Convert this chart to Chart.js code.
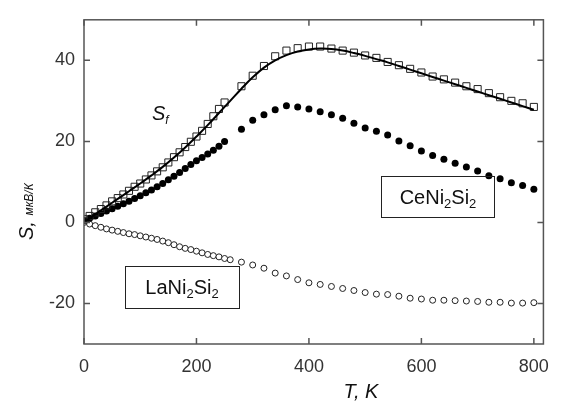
<!DOCTYPE html>
<html>
<head>
<meta charset="utf-8">
<script src="https://cdn.jsdelivr.net/npm/chart.js@4.4.0/dist/chart.umd.min.js"></script>
<style>
  html, body { margin: 0; padding: 0; background: #fff; }
</style>
</head>
<body>
<canvas id="chart" width="561" height="401"></canvas>
<script>
// S_f (open squares)
const sfTemp = [0, 10, 20, 30, 40, 50, 60, 70, 80, 90, 100, 110, 120, 130, 140, 150, 160, 170, 180, 190, 200,
  210, 220, 230, 240, 250, 280, 300, 320, 340, 360, 380, 400, 420, 440, 460, 480, 500, 520, 540, 560, 580,
  600, 620, 640, 660, 680, 700, 720, 740, 760, 780, 800];
const sfVals = [0.8, 1.6, 2.5, 3.3, 4.2, 5.2, 6.0, 6.9, 7.8, 8.8, 9.6, 10.6, 11.6, 12.6, 13.6, 14.8, 16.1, 17.3, 18.6, 19.9, 21.2,
  22.6, 24.3, 26.2, 28.0, 29.6, 33.6, 36.2, 38.6, 41.0, 42.4, 43.0, 43.4, 43.4, 42.9, 42.4, 41.9, 41.2, 40.6, 39.6, 38.8, 37.9,
  37.0, 36.0, 35.3, 34.5, 33.6, 32.9, 31.9, 30.9, 30.0, 29.4, 28.5];

// fitted curve for S_f
const fitTemp = [0, 20, 40, 60, 80, 100, 120, 140, 160, 180, 200, 220, 240, 260, 280, 300, 320, 340, 360, 380, 400,
  420, 440, 460, 480, 500, 520, 540, 560, 580, 600, 620, 640, 660, 680, 700, 720, 740, 760, 780, 800];
const fitVals = [0, 2.0, 3.9, 5.8, 7.7, 9.6, 11.6, 13.7, 16.0, 18.5, 21.2, 24.0, 27.0, 30.0, 33.0, 35.8, 38.2, 40.0, 41.3, 42.2, 42.7,
  42.9, 42.8, 42.4, 41.8, 41.1, 40.3, 39.5, 38.6, 37.7, 36.8, 35.9, 35.0, 34.1, 33.2, 32.3, 31.4, 30.5, 29.6, 28.7, 27.8];

// CeNi2Si2 (filled circles)
const ceTemp = [0, 10, 20, 30, 40, 50, 60, 70, 80, 90, 100, 110, 120, 130, 140, 150, 160, 170, 180, 190, 200,
  210, 220, 230, 240, 250, 280, 300, 320, 340, 360, 380, 400, 420, 440, 460, 480, 500, 520, 540, 560, 580,
  600, 620, 640, 660, 680, 700, 720, 740, 760, 780, 800];
const ceVals = [0.5, 1.0, 1.6, 2.2, 2.8, 3.4, 4.0, 4.6, 5.2, 5.9, 6.6, 7.3, 8.0, 8.8, 9.6, 10.5, 11.4, 12.3, 13.3, 14.3, 15.2,
  16.0, 16.9, 17.8, 18.8, 20.0, 23.0, 25.2, 26.6, 27.8, 28.8, 28.5, 28.0, 27.3, 26.6, 25.7, 24.5, 23.3, 22.5, 21.6, 20.1, 18.9,
  17.6, 16.5, 15.6, 14.6, 13.7, 12.7, 11.5, 10.8, 9.8, 9.1, 8.2];

// LaNi2Si2 (open circles)
const laTemp = [0, 10, 20, 30, 40, 50, 60, 70, 80, 90, 100, 110, 120, 130, 140, 150, 160, 170, 180, 190, 200,
  210, 220, 230, 240, 250, 260, 280, 300, 320, 340, 360, 380, 400, 420, 440, 460, 480, 500, 520, 540, 560, 580,
  600, 620, 640, 660, 680, 700, 720, 740, 760, 780, 800];
const laVals = [0, -0.4, -0.8, -1.2, -1.6, -1.9, -2.2, -2.5, -2.8, -3.0, -3.3, -3.6, -3.9, -4.2, -4.6, -5.0, -5.5, -6.0, -6.4, -6.7, -7.1,
  -7.5, -7.9, -8.2, -8.5, -8.9, -9.2, -9.8, -10.5, -11.3, -12.5, -13.2, -14.1, -14.9, -15.3, -15.8, -16.3, -16.8, -17.3, -17.7, -17.8, -18.2, -18.7,
  -18.9, -19.2, -19.2, -19.3, -19.4, -19.5, -19.7, -19.7, -19.9, -19.9, -19.8];

const xTicks = [0, 200, 400, 600, 800];
const yTicks = [-20, 0, 20, 40];

const pts = (t, v) => t.map((x, i) => ({ x: x, y: v[i] }));
const FONT = "'Liberation Sans', Arial, sans-serif";

// text with subscripts, parts = [text, size, dy]
function rich(ctx, parts, x, y, align) {
  let w = 0;
  parts.forEach(p => { ctx.font = p[3] + p[1] + 'px ' + FONT; w += ctx.measureText(p[0]).width; });
  let cx = align === 'center' ? x - w / 2 : x;
  parts.forEach(p => {
    ctx.font = p[3] + p[1] + 'px ' + FONT;
    ctx.fillText(p[0], cx, y + p[2]);
    cx += ctx.measureText(p[0]).width;
  });
}

const decor = {
  id: 'decor',
  afterDraw(chart) {
    const { ctx, chartArea: a, scales } = chart;
    const x = scales.x, y = scales.y;
    ctx.save();
    ctx.strokeStyle = '#555';
    ctx.lineWidth = 1.5;
    ctx.strokeRect(a.left, a.top, a.right - a.left, a.bottom - a.top);
    ctx.beginPath();
    xTicks.forEach(v => {
      const px = x.getPixelForValue(v);
      ctx.moveTo(px, a.bottom); ctx.lineTo(px, a.bottom - 6);
      ctx.moveTo(px, a.top); ctx.lineTo(px, a.top + 6);
    });
    yTicks.forEach(v => {
      const py = y.getPixelForValue(v);
      ctx.moveTo(a.left, py); ctx.lineTo(a.left + 6, py);
      ctx.moveTo(a.right, py); ctx.lineTo(a.right - 6, py);
    });
    ctx.stroke();

    ctx.fillStyle = '#111';
    ctx.textBaseline = 'alphabetic';

    // label boxes
    ctx.lineWidth = 1;
    ctx.strokeStyle = '#222';
    ctx.strokeRect(381.5, 176.5, 113, 41);
    ctx.strokeRect(125.5, 266.5, 114, 42);
    rich(ctx, [['CeNi', 20, 0, ''], ['2', 13, 4, ''], ['Si', 20, 0, ''], ['2', 13, 4, '']], 438, 204, 'center');
    rich(ctx, [['LaNi', 20, 0, ''], ['2', 13, 4, ''], ['Si', 20, 0, ''], ['2', 13, 4, '']], 182, 294, 'center');

    // S_f label
    rich(ctx, [['S', 20, 0, 'italic '], ['f', 12, 4, 'italic ']], 152, 120, 'left');

    // x title
    rich(ctx, [['T, K', 20, 0, 'italic ']], 361, 398, 'center');

    // y title
    ctx.translate(33, 240);
    ctx.rotate(-Math.PI / 2);
    rich(ctx, [['S, ', 20, 0, 'italic '], ['мкВ/К', 12, 0, 'italic ']], 0, 0, 'left');
    ctx.restore();
  }
};

new Chart(document.getElementById('chart'), {
  type: 'scatter',
  data: {
    datasets: [
      {
        data: pts(fitTemp, fitVals),
        showLine: true,
        borderColor: '#000',
        borderWidth: 2,
        pointRadius: 0,
        tension: 0.4,
        order: 1
      },
      {
        data: pts(sfTemp, sfVals),
        pointStyle: 'rect',
        pointRadius: 5,
        borderWidth: 1,
        borderColor: '#222',
        backgroundColor: 'rgba(255,255,255,0)',
        order: 2
      },
      {
        data: pts(ceTemp, ceVals),
        pointStyle: 'circle',
        pointRadius: 3.5,
        borderWidth: 0,
        backgroundColor: '#000',
        order: 3
      },
      {
        data: pts(laTemp, laVals),
        pointStyle: 'circle',
        pointRadius: 3,
        borderWidth: 1,
        borderColor: '#222',
        backgroundColor: '#fff',
        order: 4
      }
    ]
  },
  options: {
    responsive: false,
    animation: false,
    events: [],
    layout: { padding: { top: 12, right: 2, left: 0, bottom: 0 } },
    plugins: { legend: { display: false }, tooltip: { enabled: false } },
    scales: {
      x: {
        type: 'linear',
        min: 0,
        max: 817,
        afterBuildTicks: s => { s.ticks = xTicks.map(v => ({ value: v })); },
        afterFit: s => { s.height = 57; },
        border: { display: false },
        grid: { display: false, drawTicks: false },
        ticks: { padding: 12, color: '#333', font: { family: FONT, size: 18 } }
      },
      y: {
        type: 'linear',
        min: -30,
        max: 50,
        afterBuildTicks: s => { s.ticks = yTicks.map(v => ({ value: v })); },
        afterFit: s => { s.width = 84; },
        border: { display: false },
        grid: { display: false, drawTicks: false },
        ticks: { padding: 9, color: '#333', font: { family: FONT, size: 18 } }
      }
    }
  },
  plugins: [decor]
});
</script>
</body>
</html>
